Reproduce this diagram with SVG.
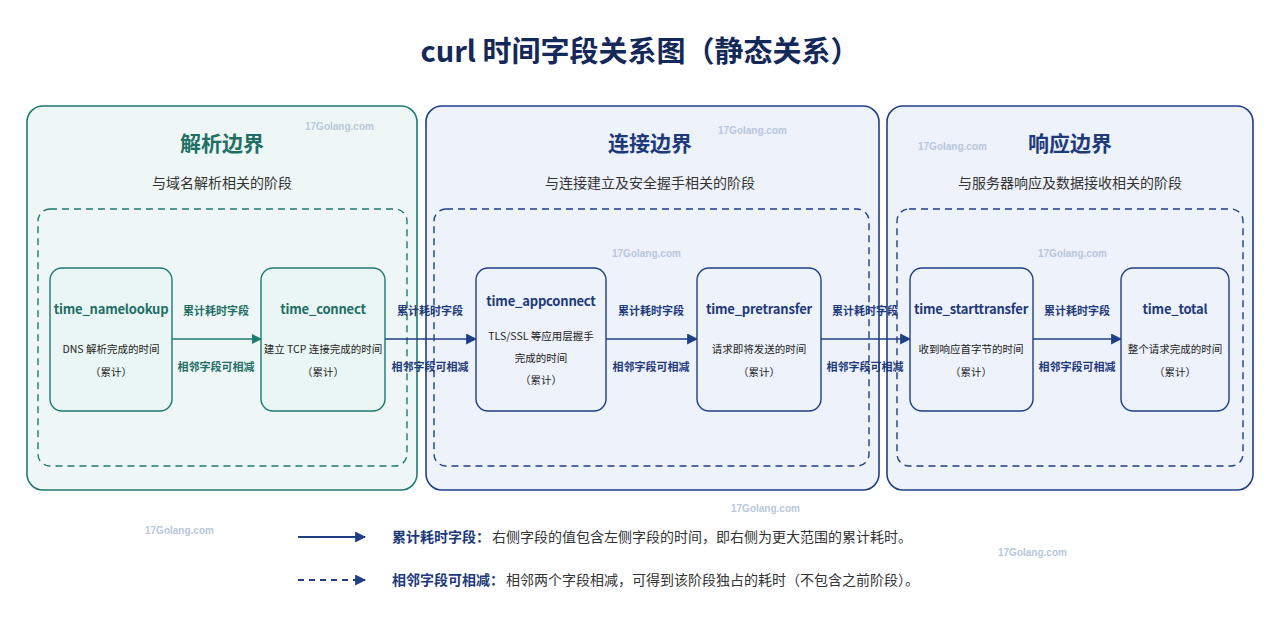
<svg xmlns="http://www.w3.org/2000/svg" width="1280" height="640" viewBox="0 0 1280 640">
<defs>
<marker id="at" viewBox="0 0 10 10" refX="9" refY="5" markerWidth="10" markerHeight="10" markerUnits="userSpaceOnUse" orient="auto"><path d="M0,0 L10,5 L0,10 z" fill="#1f7a70"/></marker>
<marker id="an" viewBox="0 0 10 10" refX="9" refY="5" markerWidth="11" markerHeight="11" markerUnits="userSpaceOnUse" orient="auto"><path d="M0,0 L10,5 L0,10 z" fill="#1e3f85"/></marker>
<style>
text{font-family:"Noto Sans CJK SC","Noto Sans",sans-serif;text-anchor:middle}
.title{font-size:29px;font-weight:700;fill:#14285a}
.ph{font-size:21px;font-weight:700}
.ps{font-size:14px;fill:#333}
.nt{font-size:13px;font-weight:700;letter-spacing:-0.2px}
.nd{font-size:10.5px;fill:#222}
.el{font-size:11px;font-weight:700}
.t{fill:#1f6f66}.n{fill:#1e3a7a}
.inner{fill:none;stroke-width:1.4;stroke-dasharray:7 5}
.wm{font-family:"Liberation Sans",sans-serif;font-size:10px;fill:#b9c6dd;text-anchor:start;font-weight:700}
</style>
</defs>
<rect width="1280" height="640" fill="#ffffff"/>
<text class="title" x="640" y="62">curl 时间字段关系图（静态关系）</text>

<g id="panel-resolve">
<rect x="27" y="106" width="390" height="384" rx="16" fill="#eef7f5" stroke="#1f7a70" stroke-width="1.6"/>
<text class="ph t" x="222" y="151">解析边界</text>
<text class="ps" x="222" y="188">与域名解析相关的阶段</text>
<rect class="inner" x="38" y="209" width="369" height="257" rx="12" stroke="#1f7a70"/>
</g>
<g id="panel-connect">
<rect x="426" y="106" width="453" height="384" rx="16" fill="#eef2fa" stroke="#1e3f85" stroke-width="1.6"/>
<text class="ph n" x="650" y="151">连接边界</text>
<text class="ps" x="650" y="188">与连接建立及安全握手相关的阶段</text>
<rect class="inner" x="434" y="209" width="435" height="257" rx="12" stroke="#1e3f85"/>
</g>
<g id="panel-response">
<rect x="887" y="106" width="366" height="384" rx="16" fill="#eef2fa" stroke="#1e3f85" stroke-width="1.6"/>
<text class="ph n" x="1070" y="151">响应边界</text>
<text class="ps" x="1070" y="188">与服务器响应及数据接收相关的阶段</text>
<rect class="inner" x="897" y="209" width="346" height="257" rx="12" stroke="#1e3f85"/>
</g>

<g id="connectors">
<line x1="172" y1="339" x2="261" y2="339" stroke="#1f7a70" stroke-width="1.6" marker-end="url(#at)"/>
<text class="el t" x="216" y="315">累计耗时字段</text><text class="el t" x="216" y="371">相邻字段可相减</text>
<line x1="385" y1="339" x2="476" y2="339" stroke="#1e3f85" stroke-width="1.6" marker-end="url(#an)"/>
<text class="el n" x="430" y="315">累计耗时字段</text><text class="el n" x="430" y="371">相邻字段可相减</text>
<line x1="606" y1="339" x2="697" y2="339" stroke="#1e3f85" stroke-width="1.6" marker-end="url(#an)"/>
<text class="el n" x="651" y="315">累计耗时字段</text><text class="el n" x="651" y="371">相邻字段可相减</text>
<line x1="821" y1="339" x2="910" y2="339" stroke="#1e3f85" stroke-width="1.6" marker-end="url(#an)"/>
<text class="el n" x="865" y="315">累计耗时字段</text><text class="el n" x="865" y="371">相邻字段可相减</text>
<line x1="1033" y1="339" x2="1121" y2="339" stroke="#1e3f85" stroke-width="1.6" marker-end="url(#an)"/>
<text class="el n" x="1077" y="315">累计耗时字段</text><text class="el n" x="1077" y="371">相邻字段可相减</text>
</g>

<g id="n-namelookup"><rect x="50" y="268" width="122" height="143" rx="12" fill="#eaf6f3" stroke="#1f7a70" stroke-width="1.4"/>
<text class="nt t" x="111" y="314">time_namelookup</text><text class="nd" x="111" y="353">DNS 解析完成的时间</text><text class="nd" x="111" y="376">（累计）</text></g>
<g id="n-connect"><rect x="261" y="268" width="124" height="143" rx="12" fill="#eaf6f3" stroke="#1f7a70" stroke-width="1.4"/>
<text class="nt t" x="323" y="314">time_connect</text><text class="nd" x="323" y="353">建立 TCP 连接完成的时间</text><text class="nd" x="323" y="376">（累计）</text></g>
<g id="n-appconnect"><rect x="476" y="268" width="130" height="143" rx="12" fill="#eef2fb" stroke="#1e3f85" stroke-width="1.4"/>
<text class="nt n" x="541" y="306">time_appconnect</text><text class="nd" x="541" y="340">TLS/SSL 等应用层握手</text><text class="nd" x="541" y="362">完成的时间</text><text class="nd" x="541" y="384">（累计）</text></g>
<g id="n-pretransfer"><rect x="697" y="268" width="124" height="143" rx="12" fill="#eef2fb" stroke="#1e3f85" stroke-width="1.4"/>
<text class="nt n" x="759" y="314">time_pretransfer</text><text class="nd" x="759" y="353">请求即将发送的时间</text><text class="nd" x="759" y="376">（累计）</text></g>
<g id="n-starttransfer"><rect x="910" y="268" width="123" height="143" rx="12" fill="#eef2fb" stroke="#1e3f85" stroke-width="1.4"/>
<text class="nt n" x="971" y="314">time_starttransfer</text><text class="nd" x="971" y="353">收到响应首字节的时间</text><text class="nd" x="971" y="376">（累计）</text></g>
<g id="n-total"><rect x="1121" y="268" width="108" height="143" rx="12" fill="#eef2fb" stroke="#1e3f85" stroke-width="1.4"/>
<text class="nt n" x="1175" y="314">time_total</text><text class="nd" x="1175" y="353">整个请求完成的时间</text><text class="nd" x="1175" y="376">（累计）</text></g>

<g id="legend">
<line x1="298" y1="537" x2="365" y2="537" stroke="#1e3f85" stroke-width="1.8" marker-end="url(#an)"/>
<text x="392" y="542" style="text-anchor:start;font-size:14px"><tspan font-weight="700" fill="#1e3a7a">累计耗时字段：</tspan><tspan fill="#333" dx="2">右侧字段的值包含左侧字段的时间，即右侧为更大范围的累计耗时。</tspan></text>
<line x1="298" y1="580" x2="365" y2="580" stroke="#1e3f85" stroke-width="1.8" stroke-dasharray="6 5" marker-end="url(#an)"/>
<text x="392" y="585" style="text-anchor:start;font-size:14px"><tspan font-weight="700" fill="#1e3a7a">相邻字段可相减：</tspan><tspan fill="#333" dx="2">相邻两个字段相减，可得到该阶段独占的耗时（不包含之前阶段）。</tspan></text>
</g>

<g id="watermarks">
<text class="wm" x="305" y="130">17Golang.com</text>
<text class="wm" x="718" y="134">17Golang.com</text>
<text class="wm" x="918" y="150">17Golang.com</text>
<text class="wm" x="612" y="257">17Golang.com</text>
<text class="wm" x="1038" y="257">17Golang.com</text>
<text class="wm" x="731" y="512">17Golang.com</text>
<text class="wm" x="145" y="534">17Golang.com</text>
<text class="wm" x="998" y="556">17Golang.com</text>
</g>
</svg>
